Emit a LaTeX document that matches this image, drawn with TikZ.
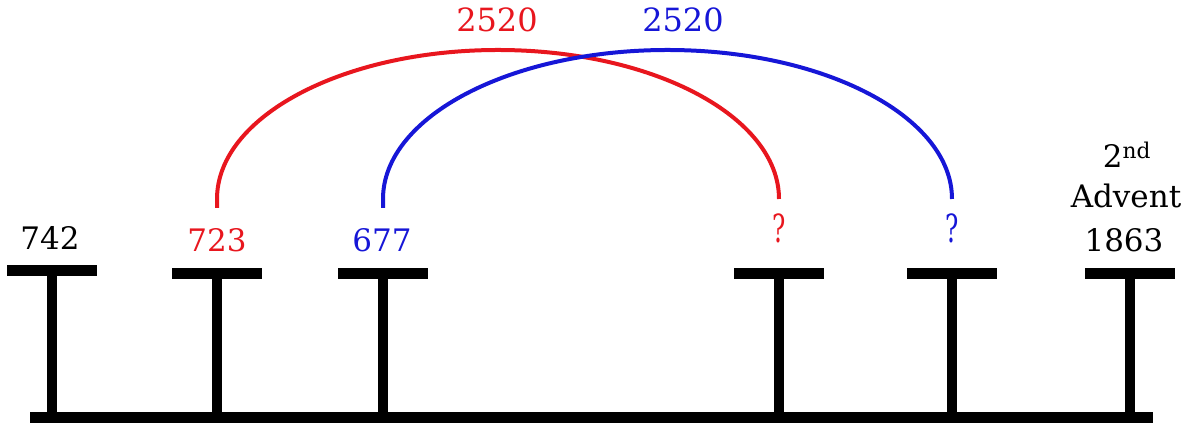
\documentclass[tikz,border=0pt]{standalone}
\usepackage{fontspec}
\setmainfont{DejaVu Serif}
\definecolor{arcred}{RGB}{232,22,30}
\definecolor{arcblue}{RGB}{22,22,215}
\begin{document}
\begin{tikzpicture}[x=1pt,y=1pt,
  lbl/.style={font=\fontsize{31}{38}\selectfont, inner sep=0pt, anchor=base},
  qlbl/.style={font=\fontsize{31}{38}\selectfont, inner sep=0pt, anchor=base},
  toplbl/.style={font=\fontsize{32}{36}\selectfont, inner sep=0pt, anchor=base},
  baseline/.style={line width=11pt, line cap=butt},
  stem/.style={line width=9.5pt, line cap=butt},
  bar/.style={line width=11pt, line cap=butt},
  span/.style={line width=4pt, line cap=butt}
]
\useasboundingbox (0,0) rectangle (1197,427);

% baseline
\coordinate (L0) at (30,9);
\coordinate (L1) at (1153,9);
\draw[baseline] (L0) -- (L1);

% tick tops
\coordinate (t1) at (52,156.5);
\coordinate (t2) at (217,153.5);
\coordinate (t3) at (383,153.5);
\coordinate (t4) at (779,153.5);
\coordinate (t5) at (952,153.5);
\coordinate (t6) at (1130,153.5);

\foreach \t in {t1,t2,t3,t4,t5,t6}{
  \draw[stem] (\t) -- (\t |- L0);
  \draw[bar] ([xshift=-45pt]\t) -- ([xshift=45pt]\t);
}

% labels
\node[lbl] (n742) at (50,177) {742};
\node[lbl, text=arcred] (n723) at (217,175) {723};
\node[lbl, text=arcblue] (n677) at (382,175) {677};
\node[qlbl, text=arcred] (qr) at (779,184) {\scalebox{0.8}[1.25]{?}};
\node[qlbl, text=arcblue] (qb) at (952,184) {\scalebox{0.8}[1.25]{?}};
\node[lbl] (adv1) at (1127,259) {2\textsuperscript{nd}};
\node[lbl] (adv2) at (1126,219) {Advent};
\node[lbl] (adv3) at (1124,175) {1863};

% arcs
\coordinate (ra) at (217,219);
\coordinate (rb) at (779,228);
\coordinate (ba) at (383,219);
\coordinate (bb) at (952,228);
\draw[span, arcred] (ra) -- ++(0,9) arc[start angle=180, end angle=0, x radius=281pt, y radius=149pt];
\draw[span, arcblue] (ba) -- ++(0,9) arc[start angle=180, end angle=0, x radius=284.5pt, y radius=149pt];

\node[toplbl, text=arcred] (s1) at (497,395) {2520};
\node[toplbl, text=arcblue] (s2) at (683,395) {2520};
\end{tikzpicture}
\end{document}
